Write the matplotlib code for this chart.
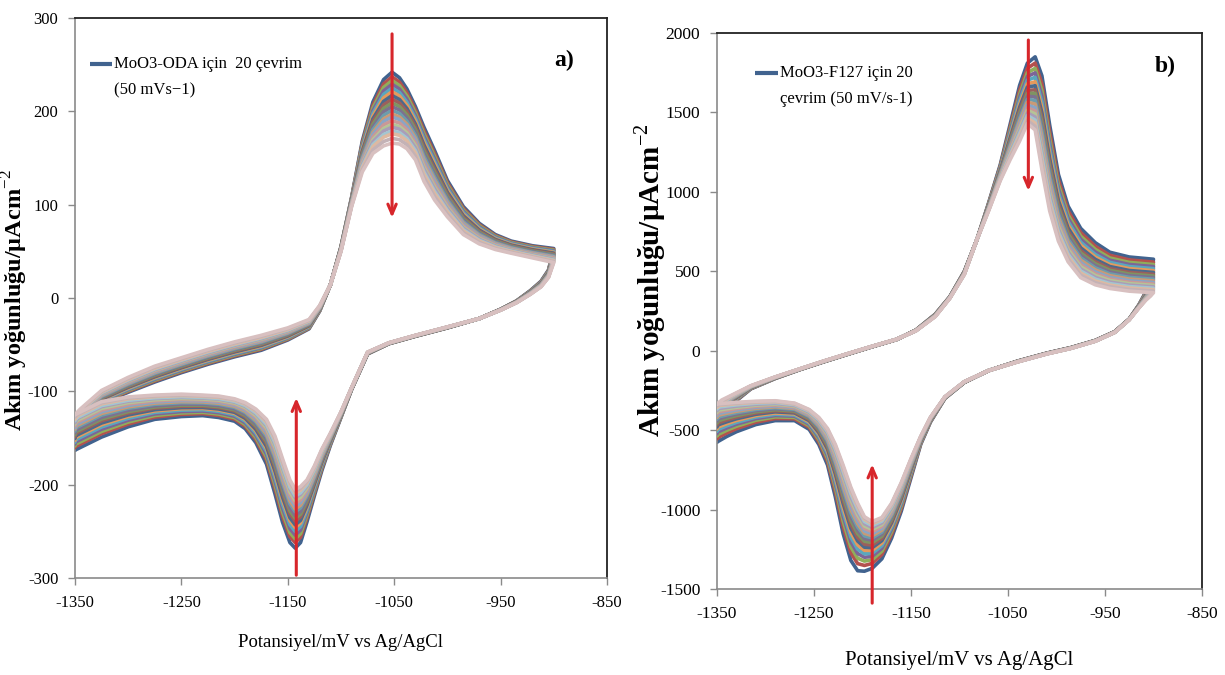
import numpy as np
import matplotlib
matplotlib.use("Agg")
import matplotlib.pyplot as plt

plt.rcParams["font.family"] = ["Liberation Serif", "DejaVu Serif"]
plt.rcParams["mathtext.fontset"] = "custom"
plt.rcParams["mathtext.rm"] = "Liberation Serif"
plt.rcParams["mathtext.bf"] = "Liberation Serif:bold"
plt.rcParams["axes.unicode_minus"] = False

# --- MoO3-ODA, 20 cycles (panel a) ---
# anodic sweep -1350 -> -900 mV
E_A_UP = [-1350, -1345, -1325, -1300, -1275, -1250, -1225, -1200, -1175, -1150,
          -1130, -1120, -1110, -1100, -1090, -1080, -1070, -1060, -1052, -1045,
          -1038, -1030, -1022, -1012, -1000, -985, -970, -955, -940, -920, -900]
I_A_UP_FIRST = [-163, -135, -113, -101, -90, -80, -71, -63, -56, -45,
                -33, -14, 14, 55, 108, 168, 210, 234, 242, 236,
                224, 205, 183, 158, 126, 98, 80, 68, 61, 56, 53]
I_A_UP_LAST = [-125, -119, -99, -85, -73, -64, -55, -47, -40, -32,
               -23, -8, 14, 50, 98, 135, 155, 163, 166, 165,
               160, 148, 125, 105, 87, 68, 58, 52, 48, 43, 38]
# cathodic sweep -900 -> -1350 mV
E_A_DN = [-900, -905, -912, -922, -935, -950, -970, -1000, -1030, -1055,
          -1075, -1090, -1100, -1110, -1118, -1125, -1132, -1138, -1143, -1148,
          -1155, -1162, -1170, -1180, -1190, -1200, -1215, -1230, -1250, -1275,
          -1300, -1325, -1350]
I_A_DN_FIRST = [53, 30, 18, 8, -3, -12, -22, -32, -41, -49,
                -60, -98, -128, -158, -185, -212, -240, -262, -268, -262,
                -240, -210, -178, -155, -140, -132, -128, -126, -127, -130,
                -138, -149, -163]
I_A_DN_LAST = [38, 22, 12, 4, -5, -13, -22, -31, -40, -48,
               -58, -96, -122, -145, -162, -180, -195, -202, -205, -195,
               -172, -148, -130, -119, -112, -108, -105, -104, -103, -104,
               -106, -111, -125]
# peak current of every cycle
PEAK_A_OX = [242, 237, 233, 229, 225, 221, 217, 213, 209, 205,
             201, 197, 194, 190, 186, 183, 179, 176, 171, 166]
PEAK_A_RED = [-268, -262, -258, -254, -250, -246, -243, -239, -236, -233,
              -229, -226, -223, -220, -217, -214, -212, -209, -207, -205]

# --- MoO3-F127, 20 cycles (panel b) ---
E_B_UP = [-1350, -1345, -1335, -1315, -1290, -1265, -1240, -1215, -1190, -1165,
          -1145, -1125, -1110, -1095, -1082, -1070, -1058, -1048, -1038, -1030,
          -1022, -1015, -1007, -998, -988, -975, -960, -945, -925, -900]
I_B_UP_FIRST = [-575, -470, -340, -240, -175, -120, -70, -22, 25, 70,
                130, 230, 340, 500, 700, 930, 1170, 1420, 1670, 1810,
                1850, 1730, 1420, 1110, 910, 770, 680, 620, 590, 576]
I_B_UP_LAST = [-335, -310, -280, -220, -165, -115, -65, -18, 28, 72,
               125, 215, 330, 480, 700, 880, 1070, 1200, 1320, 1430,
               1390, 1140, 880, 690, 560, 460, 415, 392, 375, 365]
E_B_DN = [-900, -903, -908, -915, -925, -940, -960, -985, -1010, -1040,
          -1070, -1095, -1115, -1130, -1140, -1150, -1160, -1170, -1180, -1190,
          -1198, -1205, -1212, -1220, -1228, -1236, -1245, -1255, -1270, -1290,
          -1310, -1330, -1340, -1350]
I_B_DN_FIRST = [576, 460, 370, 290, 200, 120, 65, 20, -15, -65,
                -125, -200, -300, -450, -590, -800, -1010, -1180, -1310, -1370,
                -1388, -1385, -1320, -1150, -920, -720, -590, -495, -440, -440,
                -465, -510, -540, -575]
I_B_DN_LAST = [365, 345, 318, 270, 195, 115, 60, 15, -20, -70,
               -125, -195, -290, -420, -540, -680, -830, -960, -1050, -1075,
               -1045, -960, -860, -720, -590, -490, -420, -370, -330, -315,
               -318, -325, -330, -335]
PEAK_B_OX = [1850, 1815, 1785, 1760, 1735, 1710, 1688, 1665, 1645, 1625,
             1605, 1585, 1565, 1547, 1530, 1512, 1495, 1478, 1460, 1440]
PEAK_B_RED = [-1388, -1355, -1330, -1308, -1288, -1268, -1250, -1233, -1216, -1200,
              -1185, -1170, -1156, -1142, -1128, -1115, -1102, -1090, -1082, -1075]

# excel-like series colours, cycle 1 .. 20
COLORS = ["#41638F", "#B3514E", "#8FAE5B", "#7D6597", "#5AA7BE", "#E59A5C",
          "#4C6A8C", "#9B5F5C", "#7F9462", "#7D7190", "#6C9DAC", "#C99A76",
          "#8AA5C6", "#C99897", "#B5C497", "#A99DB9", "#A3C6D1", "#DDB9A2",
          "#C4B2B6", "#D8C0C0"]
RED = "#D7262B"


def cycle_curves(e_up, up_first, up_last, e_dn, dn_first, dn_last, ox, red):
    up_first, up_last = np.array(up_first, float), np.array(up_last, float)
    dn_first, dn_last = np.array(dn_first, float), np.array(dn_last, float)
    curves = []
    for k in range(len(ox)):
        w_up = (ox[k] - ox[-1]) / (ox[0] - ox[-1])
        w_dn = (red[k] - red[-1]) / (red[0] - red[-1])
        i_up = up_last + w_up * (up_first - up_last)
        i_dn = dn_last + w_dn * (dn_first - dn_last)
        e = np.concatenate([e_up, e_dn[1:]])
        i = np.concatenate([i_up, i_dn[1:]])
        curves.append((e, i))
    return curves


def style_axes(ax, yticks, labelsize):
    ax.set_xlim(-1350, -850)
    ax.set_xticks(range(-1350, -849, 100))
    ax.set_ylim(yticks[0], yticks[-1])
    ax.set_yticks(yticks)
    for side in ("left", "bottom"):
        ax.spines[side].set_color("#8a8a8a")
        ax.spines[side].set_linewidth(1.2)
    for side in ("top", "right"):
        ax.spines[side].set_color("#222222")
        ax.spines[side].set_linewidth(1.3)
    ax.tick_params(direction="out", length=5, width=1, color="#8a8a8a",
                   labelsize=labelsize, pad=7)


def legend_entry(ax, x0, x1, y, lines, dy, size):
    ax.plot([x0, x1], [y, y], transform=ax.transAxes, color=COLORS[0],
            lw=3, solid_capstyle="butt", zorder=40)
    for n, line in enumerate(lines):
        ax.text(x1 + 0.004, y - n * dy, line, transform=ax.transAxes,
                fontsize=size, ha="left", va="center", zorder=40)


def arrow(ax, x, y0, y1):
    ax.annotate("", xy=(x, y1), xytext=(x, y0), annotation_clip=False,
                arrowprops=dict(arrowstyle="->,head_length=0.7,head_width=0.3",
                                color=RED, lw=2.2, shrinkA=0, shrinkB=0),
                zorder=30)


fig = plt.figure(figsize=(12.25, 6.75), dpi=100)
ax_a = fig.add_axes([0.0612, 0.1437, 0.4343, 0.8296])
ax_b = fig.add_axes([0.5853, 0.1274, 0.3959, 0.8237])

curves_a = cycle_curves(E_A_UP, I_A_UP_FIRST, I_A_UP_LAST, E_A_DN,
                        I_A_DN_FIRST, I_A_DN_LAST, PEAK_A_OX, PEAK_A_RED)
curves_b = cycle_curves(E_B_UP, I_B_UP_FIRST, I_B_UP_LAST, E_B_DN,
                        I_B_DN_FIRST, I_B_DN_LAST, PEAK_B_OX, PEAK_B_RED)

for ax, curves in [(ax_a, curves_a), (ax_b, curves_b)]:
    for k, (e, i) in enumerate(curves):
        ax.plot(e, i, color=COLORS[k], lw=2.6, solid_joinstyle="round",
                solid_capstyle="round", zorder=2 + k)

style_axes(ax_a, list(range(-300, 301, 100)), 12)
style_axes(ax_b, list(range(-1500, 2001, 500)), 12.5)

ax_a.set_xlabel("Potansiyel/mV vs Ag/AgCl", fontsize=13.5, labelpad=17)
ax_b.set_xlabel("Potansiyel/mV vs Ag/AgCl", fontsize=15, labelpad=21)

legend_entry(ax_a, 0.028, 0.069, 0.918,
             ["MoO3-ODA için  20 çevrim", "(50 mVs\u22121)"], 0.048, 12)
legend_entry(ax_b, 0.078, 0.126, 0.928,
             ["MoO3-F127 için 20", "çevrim (50 mV/s-1)"], 0.047, 12)

ax_a.text(0.92, 0.925, "a)", transform=ax_a.transAxes, fontsize=17,
          fontweight="bold", ha="center", va="center")
ax_b.text(0.925, 0.94, "b)", transform=ax_b.transAxes, fontsize=17,
          fontweight="bold", ha="center", va="center")

ylabel = "Akım yoğunluğu/µAcm$^{-2}$"
ax_a.set_ylabel(ylabel, fontsize=17.5, fontweight="bold")
ax_a.yaxis.set_label_coords(-0.085, 0.496)
ax_b.set_ylabel(ylabel, fontsize=21, fontweight="bold")
ax_b.yaxis.set_label_coords(-0.1, 0.556)

arrow(ax_a, -1052, 283, 86)
arrow(ax_a, -1142, -297, -107)
arrow(ax_b, -1029, 1956, 1006)
arrow(ax_b, -1190, -1589, -715)

fig.savefig("out.png", dpi=100)
